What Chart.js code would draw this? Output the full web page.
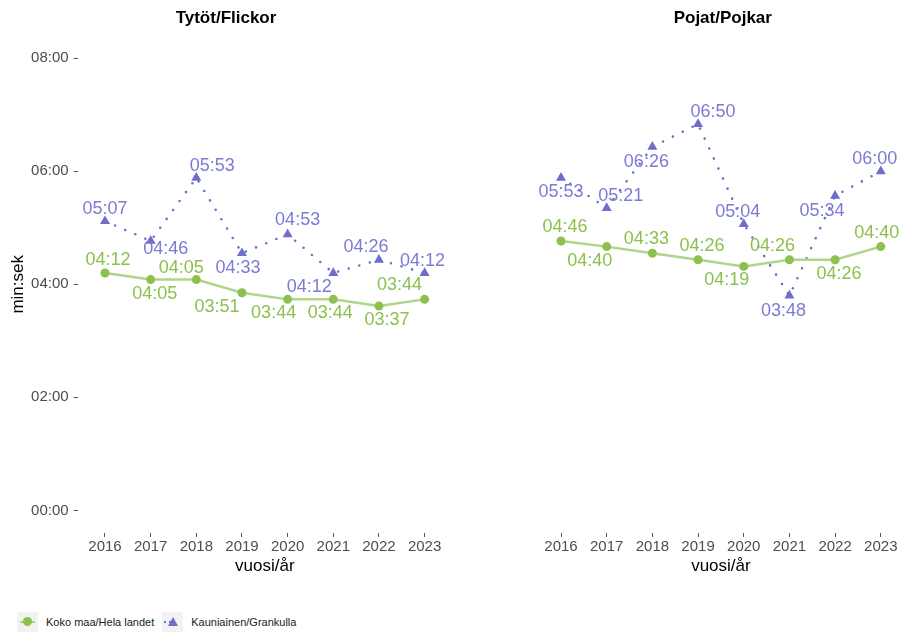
<!DOCTYPE html>
<html lang="fi">
<head>
<meta charset="UTF-8">
<title>Tytöt/Flickor – Pojat/Pojkar</title>
<script src="https://cdn.jsdelivr.net/npm/chart.js"></script>
<style>
html, body { margin: 0; padding: 0; background: #fff; overflow: hidden; }
body { width: 899px; height: 633px; position: relative; font-family: "Liberation Sans", Arial, sans-serif; }
.panel { position: absolute; top: 0; height: 580px; }
#girlsPanel { left: 0; width: 460px; }
#boysPanel { left: 450px; width: 464px; }
.legend { position: absolute; left: 17px; top: 612px; display: flex; align-items: center; font-size: 11px; color: #1a1a1a; }
.key { width: 21px; height: 20px; background: #f2f2f2; position: relative; margin-right: 8px; }
.key .ln { position: absolute; left: 3px; right: 3px; top: 9px; height: 2px; background: #a9d27f; }
.key .dot { position: absolute; left: 6px; top: 5px; width: 9px; height: 9px; border-radius: 50%; background: #8cc04f; }
.key .dots { position: absolute; left: 2px; top: 9px; width: 8px; height: 2px;
  background: repeating-linear-gradient(90deg, #6e6ecb 0 2px, transparent 2px 5px); }
.key .tri { position: absolute; left: 6px; top: 5px; width: 0; height: 0;
  border-left: 5px solid transparent; border-right: 5px solid transparent; border-bottom: 9px solid #6e6ecb; }
.legend span.txt { margin-right: 8px; }
</style>
</head>
<body>
<div class="panel" id="girlsPanel"><canvas id="girlsChart" width="460" height="580"></canvas></div>
<div class="panel" id="boysPanel"><canvas id="boysChart" width="464" height="580"></canvas></div>
<div class="legend">
  <div class="key"><div class="ln"></div><div class="dot"></div></div><span class="txt">Koko maa/Hela landet</span>
  <div class="key"><div class="dots"></div><div class="tri"></div></div><span class="txt">Kauniainen/Grankulla</span>
</div>

<script>
// values, as min:sek
const years = [2016, 2017, 2018, 2019, 2020, 2021, 2022, 2023];
const girlsWhole = ['04:12', '04:05', '04:05', '03:51', '03:44', '03:44', '03:37', '03:44'];
const girlsKau   = ['05:07', '04:46', '05:53', '04:33', '04:53', '04:12', '04:26', '04:12'];
const boysWhole  = ['04:46', '04:40', '04:33', '04:26', '04:19', '04:26', '04:26', '04:40'];
const boysKau    = ['05:53', '05:21', '06:26', '06:50', '05:04', '03:48', '05:34', '06:00'];
const yTicks = [0, 120, 240, 360, 480];
const seriesNames = ['Koko maa/Hela landet', 'Kauniainen/Grankulla'];

// where each value label sits next to its point (px), like the repelled labels
const girlsWholeShift = [[3,-13],[4,14],[-15,-12],[-25,14],[-14,14],[-3,14],[8,14],[-25,-14]];
const girlsKauShift   = [[0,-12],[15,8],[16,-12],[-4,15],[10,-14],[-24,14],[-13,-13],[-2,-12]];
const boysWholeShift  = [[4,-14],[-17,14],[-6,-14],[4,-14],[-17,14],[-17,-14],[4,14],[-4,-14]];
const boysKauShift    = [[0,14],[14,-12],[-6,15],[15,-12],[-6,-12],[-6,15],[-13,15],[-6,-12]];

const GREEN = '#8cc04f', GREEN_LINE = '#afd58a', PURPLE = '#6e6ecb', PURPLE_TXT = '#7b7bd2';

function toSec(s) {
    const [m, sec] = s.split(':').map(Number);
    return m * 60 + sec;
}
function fmt(v) {
    const m = Math.floor(v / 60), s = Math.round(v - m * 60);
    return String(m).padStart(2, '0') + ':' + String(s).padStart(2, '0');
}
function points(vals) {
    return vals.map((v, i) => ({ x: years[i], y: toSec(v) }));
}

// draws the value labels with their shifts
const valueLabels = {
    id: 'valueLabels',
    afterDatasetsDraw(chart) {
        const ctx = chart.ctx;
        ctx.save();
        ctx.font = '18px "Liberation Sans", Arial, sans-serif';
        ctx.textAlign = 'center';
        ctx.textBaseline = 'middle';
        chart.data.datasets.forEach((ds, di) => {
            const meta = chart.getDatasetMeta(di);
            ctx.fillStyle = ds.labelColor;
            meta.data.forEach((pt, i) => {
                const sh = ds.labelShift[i];
                ctx.fillText(ds.labelText[i], pt.x + sh[0], pt.y + sh[1]);
            });
        });
        ctx.restore();
    }
};

function makeChart(id, title, wholeVals, kauVals, wholeShift, kauShift, showY) {
    const tickFont = { family: '"Liberation Sans", Arial, sans-serif', size: 15 };
    return new Chart(document.getElementById(id), {
        type: 'line',
        data: {
            datasets: [{
                label: seriesNames[0],
                data: points(wholeVals),
                labelText: wholeVals, labelShift: wholeShift, labelColor: GREEN,
                borderColor: GREEN_LINE, borderWidth: 2.5,
                pointStyle: 'circle', pointRadius: 4.5, pointBackgroundColor: GREEN,
                pointBorderWidth: 0, tension: 0
            }, {
                label: seriesNames[1],
                data: points(kauVals),
                labelText: kauVals, labelShift: kauShift, labelColor: PURPLE_TXT,
                borderColor: PURPLE, borderWidth: 2.6, borderDash: [0, 11], borderCapStyle: 'round',
                pointStyle: 'triangle', pointRadius: 5.8, pointBackgroundColor: PURPLE,
                pointBorderWidth: 0, tension: 0
            }]
        },
        options: {
            responsive: false,
            animation: false,
            layout: { padding: { left: showY ? 0 : 83.6, right: showY ? 8 : 2, top: 0, bottom: 0 } },
            plugins: {
                legend: { display: false },
                tooltip: { enabled: false },
                title: {
                    display: true, text: title, color: '#000',
                    font: { family: '"Liberation Sans", Arial, sans-serif', size: 17, weight: 'bold', lineHeight: 1.2 },
                    padding: { top: 8.6, bottom: 6.6 }
                }
            },
            scales: {
                x: {
                    type: 'linear', min: 2015.4, max: 2023.6,
                    afterBuildTicks: s => { s.ticks = years.map(v => ({ value: v })); },
                    afterFit: s => { s.height = 47; },
                    grid: { display: true, drawOnChartArea: false, drawTicks: true, tickLength: 4, color: '#555' },
                    border: { display: false },
                    ticks: { color: '#4d4d4d', font: tickFont, padding: 1, maxRotation: 0, callback: v => String(v) },
                    title: {
                        display: true, text: 'vuosi/år', color: '#000',
                        font: { family: '"Liberation Sans", Arial, sans-serif', size: 17, lineHeight: 1.2 },
                        padding: { top: 0, bottom: 3.8 }
                    }
                },
                y: {
                    display: showY,
                    min: -24, max: 504,
                    afterBuildTicks: s => { s.ticks = yTicks.map(v => ({ value: v })); },
                    afterFit: s => { s.width = showY ? 77.6 : 0; },
                    grid: { display: true, drawOnChartArea: false, drawTicks: true, tickLength: 4, color: '#555' },
                    border: { display: false },
                    ticks: { color: '#4d4d4d', font: tickFont, padding: 5, callback: v => fmt(v) },
                    title: {
                        display: true, text: 'min:sek', color: '#000',
                        font: { family: '"Liberation Sans", Arial, sans-serif', size: 17, lineHeight: 1.2 },
                        padding: { top: 8, bottom: 0 }
                    }
                }
            }
        },
        plugins: [valueLabels]
    });
}

makeChart('girlsChart', 'Tytöt/Flickor', girlsWhole, girlsKau, girlsWholeShift, girlsKauShift, true);
makeChart('boysChart', 'Pojat/Pojkar', boysWhole, boysKau, boysWholeShift, boysKauShift, false);
</script>
</body>
</html>
